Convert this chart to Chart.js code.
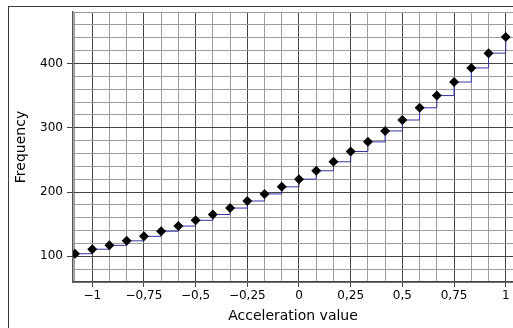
<!DOCTYPE html>
<html>
<head>
<meta charset="utf-8">
<script src="https://cdn.jsdelivr.net/npm/chart.js@4"></script>
<style>
html,body{margin:0;padding:0;background:#fff;width:513px;height:328px;overflow:hidden;}
#frame{position:absolute;left:8px;top:6px;width:600px;height:400px;border-left:1px solid #3a3a3a;border-top:1px solid #3a3a3a;}
#c{position:absolute;left:0;top:0;}
</style>
</head>
<body>
<div id="frame"></div>
<canvas id="c" width="518" height="328"></canvas>
<script>
// Data
const xSteps = [-13,-12,-11,-10,-9,-8,-7,-6,-5,-4,-3,-2,-1,0,1,2,3,4,5,6,7,8,9,10,11,12]; // in twelfths
const frequency = [104,111,117,124,131,139,147,156,165,175,186,197,208,220,233,247,263,278,295,312,331,350,371,393,416,441];
const xTickTwelfths = [-13,-12,-11,-10,-9,-8,-7,-6,-5,-4,-3,-2,-1,0,1,2,3,4,5,6,7,8,9,10,11,12];
const yTickValues = [60,80,100,120,140,160,180,200,220,240,260,280,300,320,340,360,380,400,420,440,460,480];
const xTitle = 'Acceleration value';
const yTitle = 'Frequency';

const points = xSteps.map((k,i)=>({x:k/12, y:frequency[i]}));

function fmtX(v){
  let s = (Math.round(v*100)/100).toString().replace('.', ',');
  return s.replace('-', '\u2212');
}
const isMajorX = v => Math.abs(Math.round(v*12)) % 3 === 0;
const isMajorY = v => v % 100 === 0;

new Chart(document.getElementById('c'), {
  type: 'scatter',
  data: {
    datasets: [{
      data: points,
      showLine: true,
      stepped: 'before',
      borderColor: '#3434a4',
      borderWidth: 1,
      pointStyle: 'rectRot',
      pointRadius: 5,
      pointBackgroundColor: '#000',
      pointBorderColor: '#000',
      pointBorderWidth: 0,
      pointHoverRadius: 5
    }]
  },
  options: {
    responsive: false,
    animation: false,
    events: [],
    layout: {padding: {left: 0, top: 12, right: 0, bottom: 0}},
    plugins: {legend: {display: false}, tooltip: {enabled: false}},
    scales: {
      x: {
        type: 'linear',
        min: -1.093,
        max: 1.035,
        afterBuildTicks: s => { s.ticks = xTickTwelfths.map(k => ({value: k/12})); },
        afterFit: s => { s.height = 46; s.paddingLeft = 0; s.paddingRight = 0; },
        border: {display: true, color: '#444', width: 1.5},
        grid: {
          color: c => isMajorX(c.tick.value) ? '#444' : '#9c9c9c',
          lineWidth: 1,
          drawTicks: true,
          tickLength: 5,
          tickColor: c => isMajorX(c.tick.value) ? '#444' : 'rgba(0,0,0,0)'
        },
        ticks: {
          autoSkip: false,
          maxRotation: 0,
          padding: 2,
          color: '#000',
          font: {family: 'DejaVu Sans', size: 12},
          callback: v => isMajorX(v) ? fmtX(v) : ''
        },
        title: {display: true, text: xTitle, color: '#000', font: {family: 'DejaVu Sans', size: 14}, padding: {top: 0, bottom: 3}}
      },
      y: {
        type: 'linear',
        min: 60,
        max: 480,
        afterBuildTicks: s => { s.ticks = yTickValues.map(v => ({value: v})); },
        afterFit: s => { s.width = 73; s.paddingTop = 0; s.paddingBottom = 0; },
        border: {display: true, color: '#555', width: 1.5},
        grid: {
          color: c => isMajorY(c.tick.value) ? '#444' : '#9c9c9c',
          lineWidth: 1,
          drawTicks: true,
          tickLength: 6,
          tickColor: c => isMajorY(c.tick.value) ? '#444' : 'rgba(0,0,0,0)'
        },
        ticks: {
          autoSkip: false,
          padding: 4,
          color: '#000',
          font: {family: 'DejaVu Sans', size: 12},
          callback: v => isMajorY(v) ? String(v) : ''
        },
        title: {display: true, text: yTitle, color: '#000', font: {family: 'DejaVu Sans', size: 14}, padding: {top: 13, bottom: 0}}
      }
    }
  }
});
</script>
</body>
</html>
